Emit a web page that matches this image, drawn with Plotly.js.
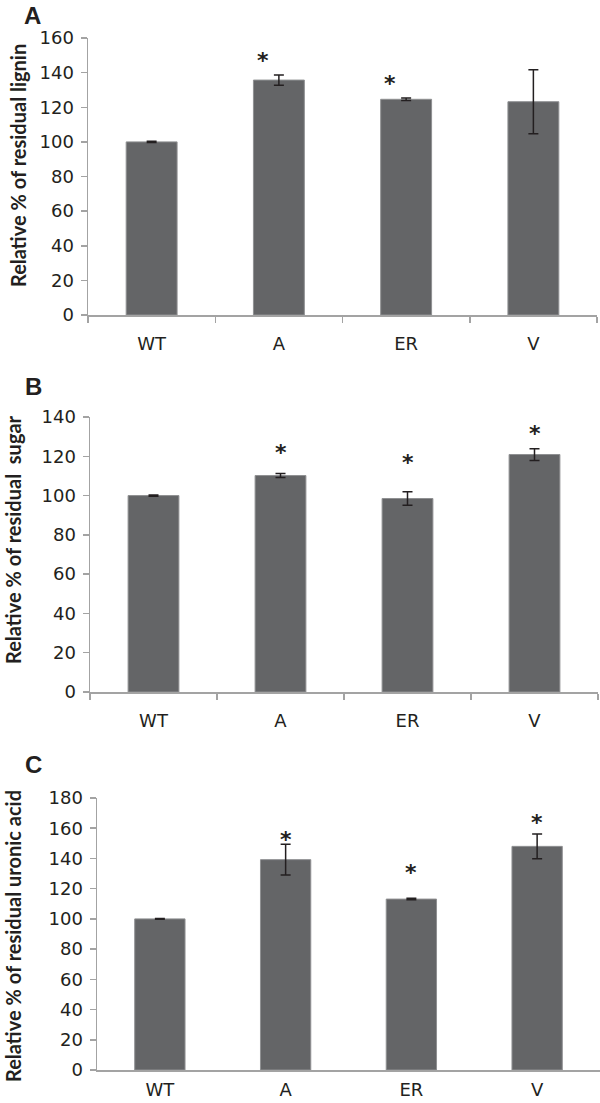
<!DOCTYPE html>
<html>
<head>
<meta charset="utf-8">
<script src="https://cdn.plot.ly/plotly-3.0.1.min.js"></script>
<style>html,body{margin:0;padding:0;background:#fff;}#chart{width:600px;height:1103px;}</style>
</head>
<body>
<div id="chart"></div>
<script>
// ---- data ----
const categories = ['WT', 'A', 'ER', 'V'];

const ligninMean = [100, 135.7, 124.6, 123.2];
const ligninErr  = [0.3, 3.0, 0.7, 18.5];
const ligninStar = [null, 148.5, 135.7, null];

const sugarMean = [100, 110.2, 98.5, 120.9];
const sugarErr  = [0.3, 1.0, 3.4, 3.0];
const sugarStar = [null, 123.7, 118.2, 133.0];

const uronicMean = [100, 139.2, 113.1, 148.0];
const uronicErr  = [0.3, 10.2, 0.5, 8.2];
const uronicStar = [null, 154.6, 132.5, 166.1];

const panelLetters = ['A', 'B', 'C'];
const yTitles = ['Relative % of residual lignin', 'Relative % of residual \u00a0sugar', 'Relative % of residual uronic acid'];
const yMax = [160, 140, 180];

// ---- layout helpers ----
const W = 600, H = 1103;
const px = v => v / W;
const py = v => 1 - v / H;

const panels = [
  {mean: ligninMean, err: ligninErr, star: ligninStar, x0: 88, x1: 597, y0: 38, y1: 315, xticks: true, starShift: -16,
   titleX: 18, titleY: 166, letterX: 32, letterY: 16, standoff: 12},
  {mean: sugarMean, err: sugarErr, star: sugarStar, x0: 90, x1: 598, y0: 417, y1: 692, xticks: true, starShift: 0,
   titleX: 13, titleY: 540, letterX: 33, letterY: 386, standoff: 12},
  {mean: uronicMean, err: uronicErr, star: uronicStar, x0: 97, x1: 600, y0: 798, y1: 1070, xticks: false, starShift: 0,
   titleX: 13, titleY: 936, letterX: 33, letterY: 764, standoff: 3}
];

const barColor = '#646567';
const barLine = '#8f9092';
const axisColor = '#a3a3a3';
const textColor = '#231f20';
const tickFont = {family: 'DejaVu Sans', size: 18, color: textColor};

const data = [];
const layout = {
  width: W, height: H,
  margin: {l: 0, r: 0, t: 0, b: 0},
  paper_bgcolor: '#ffffff', plot_bgcolor: '#ffffff',
  showlegend: false,
  bargap: 0.6,
  annotations: []
};

panels.forEach((p, i) => {
  const n = i === 0 ? '' : String(i + 1);
  const xa = 'x' + n, ya = 'y' + n;
  data.push({
    type: 'bar', x: categories, y: p.mean, xaxis: xa, yaxis: ya,
    marker: {color: barColor, line: {color: barLine, width: 1}},
    error_y: {type: 'data', array: p.err, visible: true, color: textColor, thickness: 1.5, width: 5},
    hoverinfo: 'skip'
  });
  layout['xaxis' + n] = {
    domain: [px(p.x0), px(p.x1)], anchor: ya,
    type: 'category', showline: true, linecolor: axisColor, linewidth: 1.5,
    showgrid: false, zeroline: false,
    ticks: p.xticks ? 'outside' : '', tickson: 'boundaries', ticklen: 6, tickcolor: axisColor, tickwidth: 1.5,
    tickfont: tickFont, ticklabelstandoff: p.standoff, fixedrange: true
  };
  layout['yaxis' + n] = {
    domain: [py(p.y1), py(p.y0)], anchor: xa,
    range: [0, yMax[i]], dtick: 20, tick0: 0,
    showline: true, linecolor: axisColor, linewidth: 1.5,
    showgrid: false, zeroline: false,
    ticks: 'outside', ticklen: 6, tickcolor: axisColor, tickwidth: 1.5,
    tickfont: tickFont, ticklabelstandoff: 3, fixedrange: true
  };
  // significance asterisks
  categories.forEach((c, k) => {
    if (p.star[k] !== null) {
      layout.annotations.push({
        xref: xa, yref: ya, x: c, y: p.star[k], text: '<b>*</b>', showarrow: false,
        xanchor: 'center', yanchor: 'middle', xshift: p.starShift, yshift: -3,
        font: {family: 'DejaVu Sans', size: 22, color: textColor}
      });
    }
  });
  // y-axis title
  layout.annotations.push({
    xref: 'paper', yref: 'paper', x: px(p.titleX), y: py(p.titleY),
    text: '<b>' + yTitles[i] + '</b>', textangle: -90, showarrow: false,
    xanchor: 'center', yanchor: 'middle',
    font: {family: 'Lato', size: 20, color: textColor}
  });
  // panel letter
  layout.annotations.push({
    xref: 'paper', yref: 'paper', x: px(p.letterX), y: py(p.letterY),
    text: '<b>' + panelLetters[i] + '</b>', showarrow: false,
    xanchor: 'center', yanchor: 'middle',
    font: {family: 'Liberation Sans', size: 24, color: textColor}
  });
});

Plotly.newPlot('chart', data, layout, {displayModeBar: false, staticPlot: true});
</script>
</body>
</html>
